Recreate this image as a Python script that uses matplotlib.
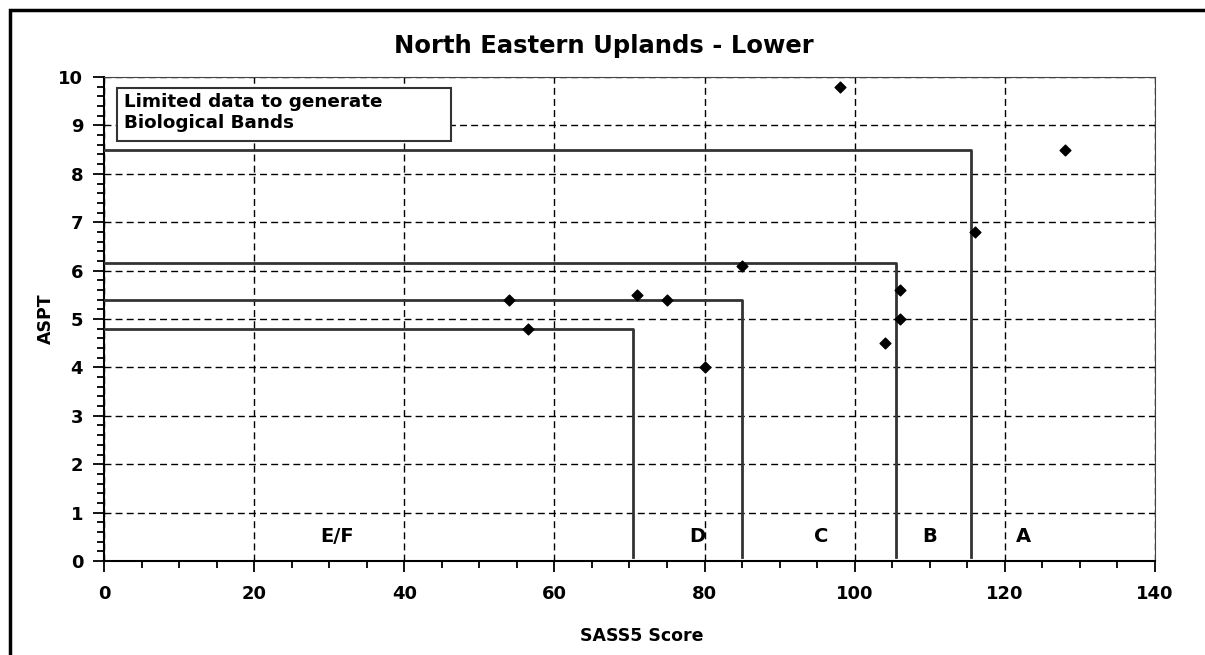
import matplotlib.pyplot as plt
from matplotlib.patches import Rectangle
from matplotlib.ticker import MultipleLocator

plt.rcParams['font.family'] = ['DejaVu Sans']

# site data
sass5 = [98, 128, 116, 85, 106, 106, 104, 54, 56.5, 71, 75, 80]
aspt = [9.8, 8.5, 6.8, 6.1, 5.6, 5.0, 4.5, 5.4, 4.8, 5.5, 5.4, 4.0]

# biological band boundaries (SASS5 limit, ASPT limit)
band_sass = [70.5, 85, 105.5, 115.5]
band_aspt = [4.8, 5.4, 6.15, 8.5]

# band labels
band_names = ['E/F', 'D', 'C', 'B', 'A']
label_x = [31, 79, 95.5, 110, 122.5]

fig = plt.figure(figsize=(12.05, 6.55), dpi=100)
ax = fig.add_axes([0.0863, 0.1435, 0.8722, 0.7389])

# outer frame of the picture
fig.patches.append(Rectangle((10 / 1205, -0.1), 1.2, 1 - 10 / 655 + 0.1,
                             transform=fig.transFigure, fill=False,
                             edgecolor='black', linewidth=2.5))

for s, a in zip(band_sass, band_aspt):
    ax.plot([0, s, s], [a, a, 0.08], color='#333333', linewidth=2, zorder=3)

ax.scatter(sass5, aspt, marker='D', s=30, color='black', zorder=4)

for name, x in zip(band_names, label_x):
    ax.text(x, 0.5, name, fontsize=14, fontweight='bold', ha='center', va='center')

# note box
ax.add_patch(Rectangle((0.0124, 0.868), 0.318, 0.109, transform=ax.transAxes,
                       facecolor='white', edgecolor='#333333', linewidth=1.5, zorder=5))
ax.text(0.019, 0.968, 'Limited data to generate\nBiological Bands', transform=ax.transAxes,
        fontsize=13.2, fontweight='bold', va='top', ha='left', linespacing=1.25, zorder=6)

ax.set_xlim(0, 140)
ax.set_ylim(0, 10)
ax.xaxis.set_major_locator(MultipleLocator(20))
ax.xaxis.set_minor_locator(MultipleLocator(5))
ax.yaxis.set_major_locator(MultipleLocator(1))
ax.yaxis.set_minor_locator(MultipleLocator(0.2))
ax.tick_params(which='both', direction='out', width=1.3, labelsize=13)
ax.tick_params(which='major', length=8)
ax.tick_params(axis='x', which='major', pad=9)
ax.tick_params(axis='y', which='major', pad=7)
ax.tick_params(which='minor', length=5)
for lab in ax.get_xticklabels() + ax.get_yticklabels():
    lab.set_fontweight('bold')

ax.grid(True, which='major', linestyle=(0, (5, 3)), color='black', linewidth=1)
ax.set_axisbelow(True)

ax.spines['left'].set_linewidth(1.5)
ax.spines['bottom'].set_linewidth(1.5)
ax.spines['top'].set_color('#444444')
ax.spines['right'].set_color('#444444')

fig.text(604 / 1205, 1 - 46 / 655, 'North Eastern Uplands - Lower', fontsize=17.5,
         fontweight='bold', ha='center', va='center')
ax.set_xlabel('SASS5 Score', fontsize=12.5, fontweight='bold')
ax.set_ylabel('ASPT', fontsize=12.5, fontweight='bold')
ax.xaxis.set_label_coords(0.512, -0.137)
ax.yaxis.set_label_coords(-0.047, 0.5)

fig.savefig('out.png', dpi=100)
